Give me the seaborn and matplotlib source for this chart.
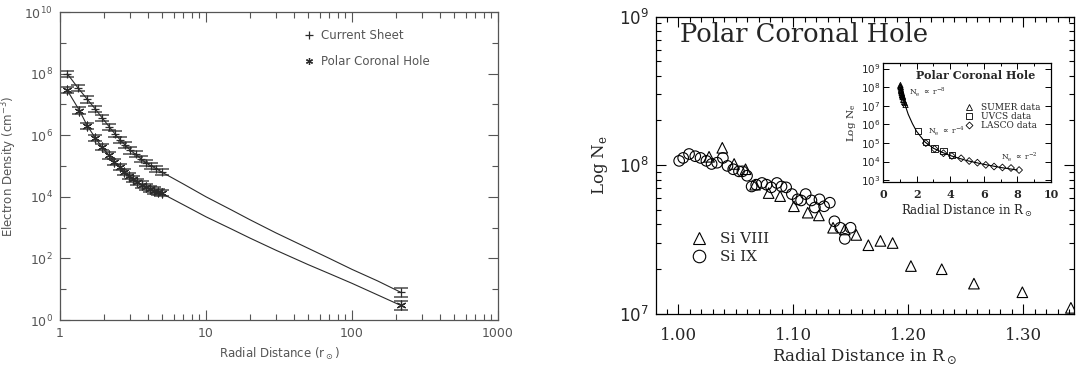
import numpy as np
import matplotlib
matplotlib.use("Agg")
import matplotlib.pyplot as plt
from matplotlib import ticker
from matplotlib.lines import Line2D
import seaborn as sns

# ---------------- left panel: density profiles out to 1 AU ----------------
cs_r = [1.12, 1.33, 1.54, 1.75, 1.95, 2.17, 2.38, 2.58, 2.80, 3.04, 3.30,
        3.58, 3.88, 4.21, 4.57, 4.96]
cs_ne = [1.0e8, 3.4e7, 1.45e7, 7.0e6, 3.6e6, 1.9e6, 1.1e6, 7.1e5, 4.7e5,
         3.2e5, 2.4e5, 1.7e5, 1.26e5, 1.0e5, 8.2e4, 6.4e4]
ph_r = [1.12, 1.36, 1.54, 1.75, 1.94, 2.17, 2.36, 2.56, 2.76, 2.96, 3.18,
        3.39, 3.62, 3.86, 4.12, 4.40, 4.70, 4.96]
ph_ne = [2.9e7, 6.3e6, 2.0e6, 8.0e5, 4.1e5, 2.2e5, 1.35e5, 9.3e4, 6.4e4,
         4.8e4, 3.7e4, 3.0e4, 2.5e4, 2.1e4, 1.8e4, 1.6e4, 1.4e4, 1.3e4]
au_r = 215.0
cs_au = 8.0
ph_au = 3.0
near_err = 1.26      # multiplicative half-width of the near-Sun error bars
au_err = 1.41        # multiplicative half-width of the 1 AU error bars

# model curves joining the corona to 1 AU
model_r = [5.2, 7.0, 10.0, 15.0, 20.0, 30.0, 50.0, 70.0, 100.0, 150.0, 215.0]
cs_model = [5.9e4, 2.6e4, 1.0e4, 3.7e3, 1.8e3, 6.8e2, 2.14e2, 1.0e2, 44.0, 18.5, 8.0]
ph_model = [1.15e4, 5.5e3, 2.24e3, 8.9e2, 4.57e2, 1.86e2, 63.0, 32.0, 15.5, 6.5, 3.0]

left_xticks = [1, 10, 100, 1000]
left_xticklabels = ["1", "10", "100", "1000"]

# ---------------- right panel: SUMER Si VIII / Si IX densities ----------------
si8_r = [1.027, 1.0385, 1.0488, 1.0587, 1.067, 1.0788, 1.0888, 1.1008, 1.1128,
         1.1225, 1.1348, 1.145, 1.155, 1.1655, 1.176, 1.1866, 1.2025, 1.2293,
         1.2573, 1.2994, 1.3416]
si8_ne = [1.14e8, 1.31e8, 1.02e8, 9.4e7, 7.4e7, 6.5e7, 6.2e7, 5.3e7, 4.8e7,
          4.6e7, 3.8e7, 3.7e7, 3.4e7, 2.9e7, 3.1e7, 3.0e7, 2.1e7, 2.0e7,
          1.6e7, 1.4e7, 1.1e7]
si9_r = [1.001, 1.0045, 1.0096, 1.015, 1.0196, 1.0247, 1.0292, 1.034, 1.039,
         1.043, 1.048, 1.053, 1.056, 1.060, 1.064, 1.068, 1.073, 1.077, 1.081,
         1.086, 1.090, 1.094, 1.099, 1.104, 1.107, 1.111, 1.116, 1.119, 1.123,
         1.127, 1.132, 1.136, 1.141, 1.145, 1.150]
si9_ne = [1.07e8, 1.12e8, 1.19e8, 1.15e8, 1.12e8, 1.07e8, 1.02e8, 1.04e8,
          1.12e8, 9.9e7, 9.4e7, 9.1e7, 9.1e7, 8.5e7, 7.2e7, 7.4e7, 7.6e7,
          7.4e7, 7.1e7, 7.6e7, 7.2e7, 7.1e7, 6.4e7, 5.9e7, 5.8e7, 6.4e7,
          5.8e7, 5.2e7, 5.9e7, 5.3e7, 5.6e7, 4.2e7, 3.8e7, 3.2e7, 3.8e7]
right_xticks = [1.00, 1.10, 1.20, 1.30]

# inset: combined SUMER / UVCS / LASCO profile
uvcs_r = [2.08, 2.55, 3.07, 3.6, 4.1]
uvcs_ne = [4.4e5, 1.1e5, 5.0e4, 3.6e4, 2.2e4]
lasco_r = [2.55, 3.07, 3.6, 4.1, 4.65, 5.13, 5.62, 6.12, 6.61, 7.11, 7.62, 8.1]
lasco_ne = [9.8e4, 4.8e4, 2.8e4, 2.0e4, 1.5e4, 1.07e4, 8.7e3, 6.6e3, 5.4e3,
            4.8e3, 4.5e3, 3.5e3]
fit_r = [1.0, 1.1, 1.2, 1.35, 1.5, 1.75, 2.0, 2.5, 3.0, 3.5, 4.0, 5.0, 6.0, 7.0, 8.0]
fit_ne = [1.3e8, 5.6e7, 2.2e7, 8.9e6, 3.5e6, 1.1e6, 4.2e5, 1.12e5, 5.2e4,
          3.2e4, 2.1e4, 1.12e4, 7.1e3, 4.8e3, 3.5e3]
inset_xticks = [0, 2, 4, 6, 8, 10]

# ---------------------------------------------------------------------------
sns.set_theme(style="ticks")
plt.rcParams["font.family"] = ["DejaVu Sans"]
plt.rcParams["mathtext.fontset"] = "dejavusans"
plt.rcParams["axes.unicode_minus"] = False

W, H = 1076, 367
fig = plt.figure(figsize=(W / 100, H / 100), dpi=100)
fig.patch.set_facecolor("white")


def frac(x0, y0, x1, y1):
    return [x0 / W, 1 - y1 / H, (x1 - x0) / W, (y1 - y0) / H]


GREY = "#555555"
DARK = "#2b2b2b"

axL = fig.add_axes(frac(60, 12, 498, 320))
axL.set_xscale("log")
axL.set_yscale("log")

cs_all_r = cs_r + [au_r]
cs_all_ne = cs_ne + [cs_au]
ph_all_r = ph_r + [au_r]
ph_all_ne = ph_ne + [ph_au]
cs_fac = [near_err] * len(cs_r) + [au_err]
ph_fac = [near_err] * len(ph_r) + [au_err]

for rr, nn, ff in [(cs_all_r, cs_all_ne, cs_fac), (ph_all_r, ph_all_ne, ph_fac)]:
    lo = [n - n / f for n, f in zip(nn, ff)]
    hi = [n * f - n for n, f in zip(nn, ff)]
    axL.errorbar(rr, nn, yerr=[lo, hi], fmt="none", ecolor=DARK,
                 elinewidth=0.7, capsize=5, capthick=1.1, alpha=0.85)

sns.lineplot(x=cs_r + model_r[1:], y=cs_ne + cs_model[1:], estimator=None,
             sort=False, color=DARK, linewidth=0.8, ax=axL)
sns.lineplot(x=ph_r + model_r[1:], y=ph_ne + ph_model[1:], estimator=None,
             sort=False, color=DARK, linewidth=0.8, ax=axL)
sns.scatterplot(x=cs_all_r, y=cs_all_ne, marker="+", s=40, color=DARK,
                linewidth=0.9, ax=axL)
sns.scatterplot(x=ph_all_r, y=ph_all_ne, marker=(6, 2, 0), s=40, color=DARK,
                linewidth=0.9, ax=axL)

axL.set_xlim(1, 1000)
axL.set_ylim(1, 1e10)
axL.yaxis.set_major_locator(ticker.FixedLocator([10.0 ** k for k in range(0, 11, 2)]))
axL.yaxis.set_minor_locator(ticker.FixedLocator([10.0 ** k for k in range(1, 10, 2)]))
axL.yaxis.set_major_formatter(ticker.LogFormatterSciNotation())
axL.yaxis.set_minor_formatter(ticker.NullFormatter())
axL.xaxis.set_major_locator(ticker.FixedLocator(left_xticks))
axL.xaxis.set_major_formatter(ticker.FixedFormatter(left_xticklabels))
axL.xaxis.set_minor_locator(ticker.LogLocator(subs=np.arange(2, 10)))
axL.xaxis.set_minor_formatter(ticker.NullFormatter())
axL.tick_params(which="both", direction="in", top=True, right=True,
                color=GREY, labelcolor=GREY, labelsize=9, width=0.8)
axL.tick_params(which="major", length=7, pad=5)
axL.tick_params(which="minor", length=4)
for sp in axL.spines.values():
    sp.set_color(GREY)
    sp.set_linewidth(0.9)
axL.set_xlabel(r"Radial Distance (r$_\odot$)", color=GREY, fontsize=8.5, labelpad=4)
axL.set_ylabel(r"Electron Density (cm$^{\mathdefault{-3}}$)", color=GREY,
               fontsize=8.5, labelpad=4)

hL = [Line2D([], [], marker="+", ls="none", color=DARK, ms=6, mew=0.9),
      Line2D([], [], marker=(6, 2, 0), ls="none", color=DARK, ms=5, mew=0.9)]
legL = axL.legend(hL, ["Current Sheet", "Polar Coronal Hole"], loc="upper left",
                  bbox_to_anchor=(0.556, 0.945), frameon=False, fontsize=8.5,
                  handlelength=0.9, handletextpad=0.6, labelspacing=1.1,
                  borderpad=0, borderaxespad=0)
for t in legL.get_texts():
    t.set_color(GREY)

# ---------------- right panel ----------------
SERIF = ["DejaVu Serif"]
axR = fig.add_axes(frac(655.7, 16.5, 1074, 314))
axR.set_yscale("log")
sns.scatterplot(x=si8_r, y=si8_ne, marker="^", s=58, facecolor="none",
                edgecolor="black", linewidth=0.8, ax=axR)
sns.scatterplot(x=si9_r, y=si9_ne, marker="o", s=58, facecolor="none",
                edgecolor="black", linewidth=0.8, ax=axR)
axR.set_xlim(0.9806, 1.3443)
axR.set_ylim(1e7, 1e9)
axR.xaxis.set_major_locator(ticker.FixedLocator(right_xticks))
axR.xaxis.set_major_formatter(ticker.FormatStrFormatter("%.2f"))
axR.xaxis.set_minor_locator(ticker.MultipleLocator(0.01))
axR.yaxis.set_major_locator(ticker.LogLocator(base=10))
axR.yaxis.set_major_formatter(ticker.LogFormatterSciNotation())
axR.yaxis.set_minor_locator(ticker.LogLocator(base=10, subs=np.arange(2, 10)))
axR.yaxis.set_minor_formatter(ticker.NullFormatter())
axR.tick_params(which="both", direction="in", top=True, right=True,
                color="black", width=0.8)
axR.tick_params(which="major", length=7)
axR.tick_params(which="minor", length=3.5)
axR.tick_params(axis="x", which="major", pad=9, labelsize=12)
axR.tick_params(axis="y", which="major", pad=5, labelsize=12)
for lab in axR.get_xticklabels():
    lab.set_fontfamily(SERIF)
for sp in axR.spines.values():
    sp.set_color("black")
    sp.set_linewidth(0.9)
axR.set_xlabel(r"Radial Distance in R$_\odot$", fontfamily=SERIF, fontsize=12,
               labelpad=2)
axR.set_ylabel(r"Log N$_\mathdefault{e}$", fontfamily=SERIF, fontsize=12,
               labelpad=6)
axR.text(0.058, 0.94, "Polar Coronal Hole", transform=axR.transAxes,
         fontfamily=SERIF, fontsize=18.5, ha="left", va="center")

hR = [Line2D([], [], marker="^", ls="none", mfc="none", mec="black", ms=9, mew=0.8),
      Line2D([], [], marker="o", ls="none", mfc="none", mec="black", ms=9, mew=0.8)]
legR = axR.legend(hR, ["Si VIII", "Si IX"], loc="upper left",
                  bbox_to_anchor=(0.085, 0.275), frameon=False,
                  prop={"family": SERIF, "size": 11}, handlelength=1.0,
                  handletextpad=0.9, labelspacing=0.25, borderpad=0,
                  borderaxespad=0)

# ---------------- inset ----------------
axI = fig.add_axes(frac(883, 63, 1051, 182))
axI.set_yscale("log")
sns.lineplot(x=fit_r, y=fit_ne, estimator=None, sort=False, color="black",
             linewidth=0.8, ax=axI)
sns.scatterplot(x=si8_r, y=si8_ne, marker="^", s=14, facecolor="none",
                edgecolor="black", linewidth=0.6, ax=axI)
sns.scatterplot(x=uvcs_r, y=uvcs_ne, marker="s", s=22, facecolor="none",
                edgecolor="black", linewidth=0.6, ax=axI)
sns.scatterplot(x=lasco_r, y=lasco_ne, marker="D", s=12, facecolor="none",
                edgecolor="black", linewidth=0.6, ax=axI)
axI.set_xlim(0, 10)
axI.set_ylim(10 ** 2.9, 10 ** 9.3)
axI.xaxis.set_major_locator(ticker.FixedLocator(inset_xticks))
axI.xaxis.set_major_formatter(ticker.FormatStrFormatter("%d"))
axI.yaxis.set_major_locator(ticker.FixedLocator([10.0 ** k for k in range(3, 10)]))
axI.yaxis.set_major_formatter(ticker.LogFormatterSciNotation())
axI.yaxis.set_minor_locator(ticker.NullLocator())
axI.xaxis.set_minor_locator(ticker.MultipleLocator(1))
axI.tick_params(which="both", direction="in", top=True, right=True,
                color="black", width=0.7)
axI.tick_params(which="major", length=4)
axI.tick_params(which="minor", length=2)
axI.tick_params(axis="x", labelsize=8, pad=5)
axI.tick_params(axis="y", labelsize=7.5, pad=2)
for lab in axI.get_xticklabels():
    lab.set_fontfamily(SERIF)
    lab.set_fontweight("bold")
for sp in axI.spines.values():
    sp.set_color("black")
    sp.set_linewidth(0.9)
axI.set_xlabel(r"Radial Distance in R$_\odot$", fontfamily=SERIF, fontsize=8.5,
               labelpad=2)
axI.set_ylabel(r"Log N$_\mathdefault{e}$", fontfamily=SERIF, fontsize=7.5,
               labelpad=2)
axI.text(5.5, 10 ** 8.62, "Polar Coronal Hole", fontfamily=SERIF,
         fontweight="bold", fontsize=8, ha="center", va="center")
axI.text(1.55, 10 ** 7.72, r"N$_\mathdefault{e}$ $\propto$ r$^{\mathdefault{-8}}$",
         fontfamily=SERIF, fontsize=5.5, ha="left", va="center")
axI.text(2.65, 10 ** 5.64, r"N$_\mathdefault{e}$ $\propto$ r$^{\mathdefault{-4}}$",
         fontfamily=SERIF, fontsize=5.5, ha="left", va="center")
axI.text(7.05, 10 ** 4.25, r"N$_\mathdefault{e}$ $\propto$ r$^{\mathdefault{-2}}$",
         fontfamily=SERIF, fontsize=5.5, ha="left", va="center")

hI = [Line2D([], [], marker="^", ls="none", mfc="none", mec="black", ms=4, mew=0.6),
      Line2D([], [], marker="s", ls="none", mfc="none", mec="black", ms=4.5, mew=0.6),
      Line2D([], [], marker="D", ls="none", mfc="none", mec="black", ms=3.5, mew=0.6)]
axI.legend(hI, ["SUMER data", "UVCS data", "LASCO data"], loc="upper left",
           bbox_to_anchor=(0.49, 0.66), frameon=False,
           prop={"family": SERIF, "size": 6.5}, handlelength=0.8,
           handletextpad=0.9, labelspacing=0.0, borderpad=0, borderaxespad=0)

fig.savefig("out.png", dpi=100, facecolor="white")
